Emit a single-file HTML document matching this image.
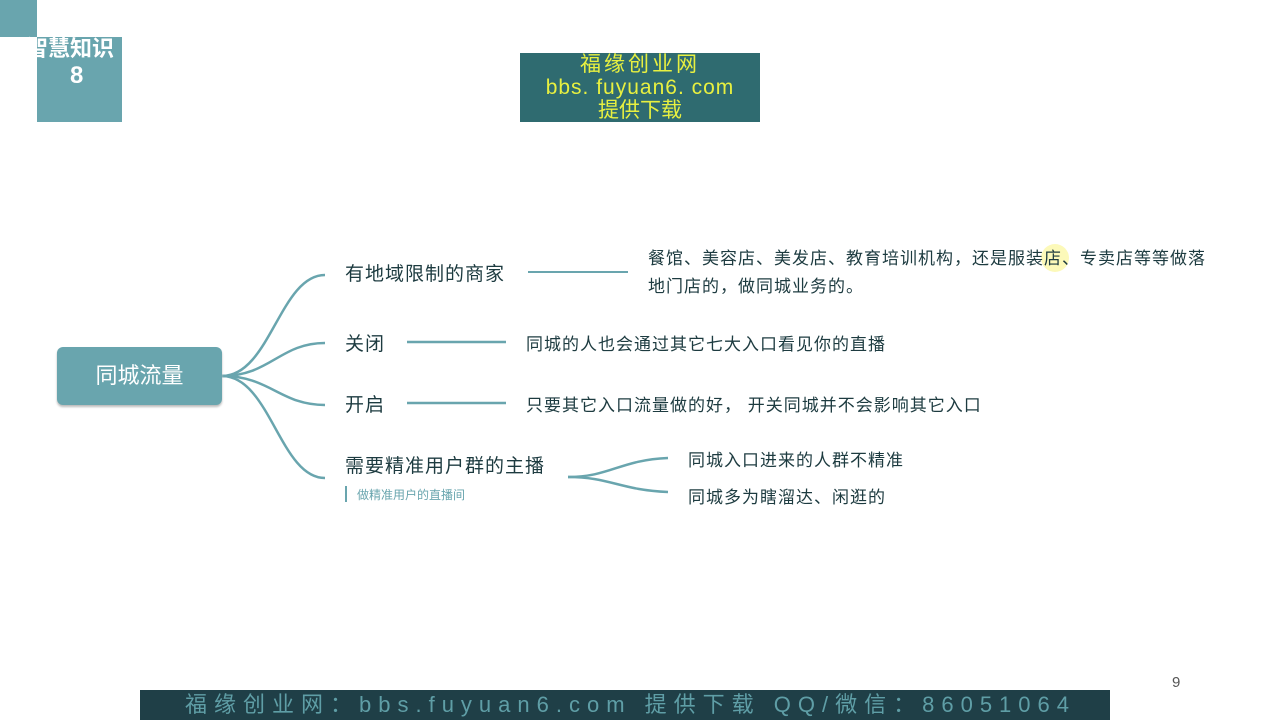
<!DOCTYPE html>
<html><head><meta charset="utf-8"><style>
body{margin:0;width:1280px;height:720px;background:#fff;position:relative;overflow:hidden;font-family:"Liberation Sans","Noto Sans CJK SC",sans-serif;color:#1d3b40}
.a{position:absolute;white-space:nowrap}
.r{font-size:17px;letter-spacing:1px}
.l{font-size:19px;letter-spacing:1px}
</style></head><body>
<div class="a" style="left:0;top:0;width:37px;height:37px;background:#69a5ae"></div>
<div class="a" style="left:37px;top:37px;width:85px;height:85px;background:#69a5ae"></div>
<div class="a" style="left:26px;top:36px;font-size:22px;font-weight:bold;color:#fff;line-height:26px">智慧知识</div>
<div class="a" style="left:70px;top:62px;font-size:24px;font-weight:bold;color:#fff">8</div>
<div class="a" style="left:520px;top:53px;width:240px;height:69px;background:#2f6b70;color:#e8f040;text-align:center;font-size:21px;line-height:23px;font-family:'Liberation Sans','WenQuanYi Zen Hei',sans-serif"><span style="letter-spacing:3px">福缘创业网</span><br><span style="letter-spacing:1px">bbs. fuyuan6. com</span><br>提供下载</div>

<svg class="a" style="left:0;top:0" width="1280" height="720">
<circle cx="1055" cy="258" r="14" fill="#fbf7a8" opacity="0.8"/>
<g fill="none" stroke="#69a5ae" stroke-width="2.5">
<path d="M222 376 C270 376,280 275,325 275"/>
<path d="M222 376 C270 376,280 343,325 343"/>
<path d="M222 376 C270 376,280 405,325 405"/>
<path d="M222 376 C270 376,280 478,325 478"/>
<line x1="528" y1="272" x2="628" y2="272" stroke-width="2"/>
<line x1="407" y1="342" x2="506" y2="342"/>
<line x1="407" y1="403" x2="506" y2="403"/>
<path d="M568 477 C610 477,620 460,668 458"/>
<path d="M568 477 C610 477,620 490,668 492"/>
<line x1="346" y1="486" x2="346" y2="502" stroke-width="2"/>
</g>
</svg>
<div class="a" style="left:57px;top:347px;width:165px;height:58px;background:#69a5ae;border-radius:6px;box-shadow:0 2px 2px #bbb;color:#fff;font-size:22px;line-height:58px;text-align:center">同城流量</div>
<div class="a l" style="left:345px;top:259px">有地域限制的商家</div>
<div class="a l" style="left:345px;top:329px">关闭</div>
<div class="a l" style="left:345px;top:390px">开启</div>
<div class="a l" style="left:345px;top:451px">需要精准用户群的主播</div>
<div class="a" style="left:357px;top:486px;font-size:12px;color:#69a5ae">做精准用户的直播间</div>
<div class="a r" style="left:648px;top:245px;line-height:28px">餐馆、美容店、美发店、教育培训机构，还是服装店、专卖店等等做落<br>地门店的，做同城业务的。</div>
<div class="a r" style="left:526px;top:330px">同城的人也会通过其它七大入口看见你的直播</div>
<div class="a r" style="left:526px;top:391px">只要其它入口流量做的好，  开关同城并不会影响其它入口</div>
<div class="a r" style="left:688px;top:446px">同城入口进来的人群不精准</div>
<div class="a r" style="left:688px;top:483px">同城多为瞎溜达、闲逛的</div>
<div class="a" style="left:1172px;top:674px;font-size:15px;color:#555">9</div>
<div class="a" style="left:140px;top:690px;width:970px;height:30px;background:#1f3f47;color:#5f9ea6;font-size:22px;line-height:30px;padding-left:45px;box-sizing:border-box;letter-spacing:7px;overflow:hidden">福缘创业网：bbs.fuyuan6.com 提供下载  QQ/微信：86051064</div>
</body></html>
